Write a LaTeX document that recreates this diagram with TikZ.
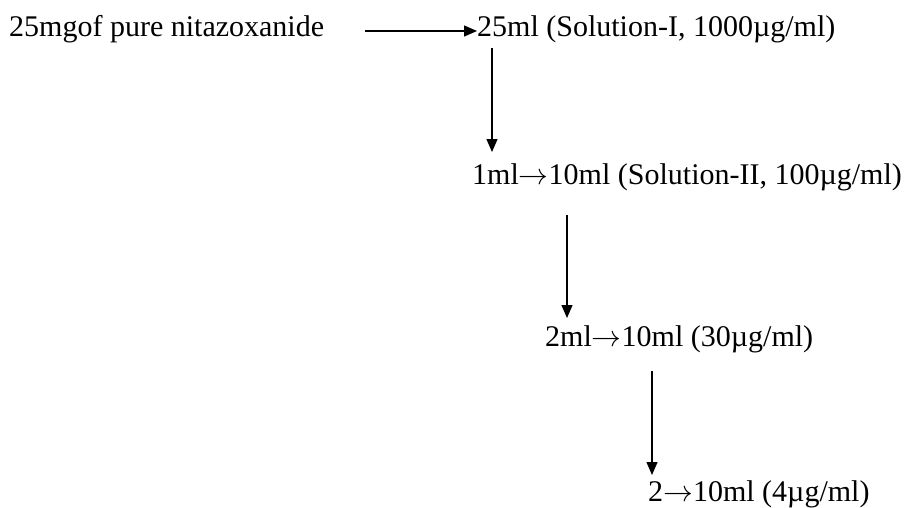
\documentclass[tikz,border=0pt]{standalone}
\usepackage{graphicx}
\usepackage{fontspec}
\setmainfont{Liberation Serif}
\usetikzlibrary{arrows.meta}
\newcommand{\ra}{\scalebox{1.2}{$\rightarrow$}}
\begin{document}
\begin{tikzpicture}[x=1pt,y=-1pt,
  lbl/.style={inner sep=0pt,anchor=base west,font=\fontsize{30}{34}\selectfont},
  arr/.style={line width=1.3pt,-{Triangle[length=13pt,width=11pt]}}]
\useasboundingbox (0,0) rectangle (904,508);
\node[lbl] (n1) at (9,37) {25mgof pure nitazoxanide};
\node[lbl] (n2) at (477,37) {25ml (Solution-I, 1000µg/ml)};
\node[lbl] (n3) at (472,184) {1ml\ra10ml (Solution-II, 100µg/ml)};
\node[lbl] (n4) at (545,346) {2ml\ra10ml (30µg/ml)};
\node[lbl] (n5) at (648,501) {2\ra10ml (4µg/ml)};
\coordinate (h0) at (365,31);
\coordinate (a1s) at (492,48);
\coordinate (a1e) at (492,152);
\coordinate (a2s) at (567,215);
\coordinate (a2e) at (567,318);
\coordinate (a3s) at (652,371);
\coordinate (a3e) at (652,475);
\draw[arr] (h0) -- (h0 -| n2.west);
\draw[arr] (a1s) -- (a1e);
\draw[arr] (a2s) -- (a2e);
\draw[arr] (a3s) -- (a3e);
\end{tikzpicture}
\end{document}
